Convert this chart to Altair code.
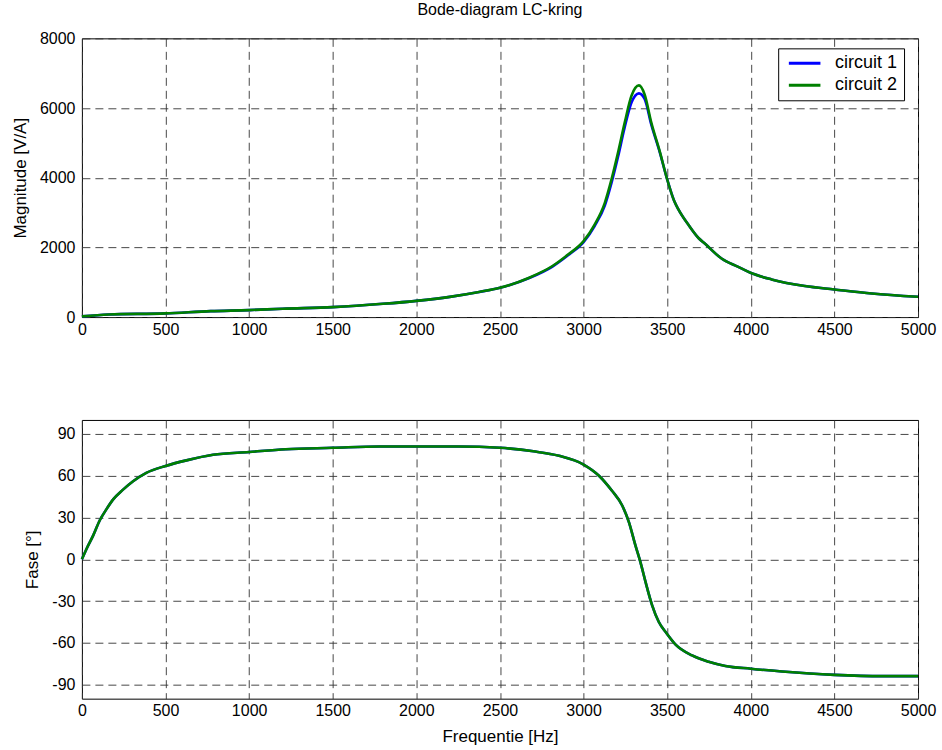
import altair as alt
import pandas as pd

# ---- data ----
series = ["circuit 1", "circuit 2"]
series_colors = ["#0000ff", "#008000"]

freq_mag = [0, 160, 500, 770, 1000, 1200, 1500, 1800, 2000, 2200, 2375, 2500, 2675, 2814,
            2909, 3000, 3067, 3127, 3167, 3206, 3246, 3286, 3331, 3365, 3405, 3455, 3500,
            3542, 3567, 3631, 3687, 3725, 3825, 3925, 3998, 4124, 4323, 4500, 4724, 5000]
mag_c1 = [20, 75, 105, 170, 200, 240, 285, 380, 465, 580, 720, 840, 1120, 1450,
          1780, 2150, 2620, 3200, 3850, 4600, 5450, 6150, 6420, 6260, 5520, 4740, 3950,
          3330, 3090, 2620, 2270, 2110, 1680, 1440, 1270, 1080, 889, 793, 678, 583]
mag_c2 = [20, 75, 105, 170, 200, 240, 285, 380, 465, 580, 720, 840, 1130, 1465,
          1800, 2180, 2660, 3280, 3950, 4720, 5580, 6345, 6650, 6390, 5580, 4765, 3950,
          3330, 3090, 2620, 2270, 2110, 1680, 1440, 1270, 1080, 889, 793, 678, 583]

freq_phase = [0, 28, 67, 107, 147, 187, 246, 306, 385, 500, 625, 784, 1000, 1220, 1500,
              1778, 2000, 2250, 2500, 2700, 2853, 3000, 3092, 3171, 3231, 3271, 3310, 3340,
              3370, 3410, 3450, 3496, 3549, 3649, 3748, 3848, 4000, 4187, 4500, 4789, 5000]
phase_c1 = [0, 7.6, 17, 28, 36, 43, 50, 56, 62, 67, 71, 75, 77, 79, 80,
            81, 81, 81, 80, 77.5, 74.3, 68, 60, 49, 38.6, 26.7, 10, -2,
            -16, -33, -45, -53, -61, -69, -73.5, -76.5, -78.5, -80.5, -82.9, -83.8, -83.8]
phase_c2 = [0, 7.6, 17, 28, 36, 43, 50, 56, 62, 67, 71, 75, 77, 79, 80,
            81, 81, 81, 80, 77.5, 74.3, 68, 60, 49, 38.6, 26.7, 10, -2,
            -16, -33, -45, -53, -61, -69, -73.5, -76.5, -78.5, -80.5, -82.9, -83.8, -83.8]

x_ticks = [0, 500, 1000, 1500, 2000, 2500, 3000, 3500, 4000, 4500, 5000]
mag_ticks = [0, 2000, 4000, 6000, 8000]
phase_ticks = [-90, -60, -30, 0, 30, 60, 90]

mag_df = pd.concat([
    pd.DataFrame({"f": freq_mag, "v": mag_c1, "s": series[0]}),
    pd.DataFrame({"f": freq_mag, "v": mag_c2, "s": series[1]}),
])
phase_df = pd.concat([
    pd.DataFrame({"f": freq_phase, "v": phase_c1, "s": series[0]}),
    pd.DataFrame({"f": freq_phase, "v": phase_c2, "s": series[1]}),
])

FONT = "Liberation Sans"
color_scale = alt.Scale(domain=series, range=series_colors)


def x_enc(title):
    return alt.X("f:Q", scale=alt.Scale(domain=[0, 5000], nice=False, zero=False),
                 axis=alt.Axis(values=x_ticks, format="d", labelPadding=4,
                               labelFlush=False, title=title))


top = alt.Chart(mag_df, title=alt.TitleParams(
        "Bode-diagram LC-kring", fontSize=16, font=FONT, fontWeight="normal",
        anchor="middle", offset=12, color="black")).mark_line(
    strokeWidth=2.6, interpolate="monotone"
).encode(
    x=x_enc(None),
    y=alt.Y("v:Q", scale=alt.Scale(domain=[0, 8000], nice=False),
            axis=alt.Axis(values=mag_ticks, format="d", title="Magnitude [V/A]")),
    color=alt.Color("s:N", scale=color_scale, legend=alt.Legend(
        title=None, orient="none", legendX=697, legendY=10,
        strokeColor="black", fillColor="white", padding=6,
        symbolType="stroke", symbolSize=1000, symbolStrokeWidth=3, symbolOffset=3,
        labelFontSize=18, labelFont=FONT, labelColor="black", rowPadding=4,
        clipHeight=18, labelOffset=13, labelExpr="datum.label + '  '")),
).properties(width=837, height=279)

bottom = alt.Chart(phase_df).mark_line(strokeWidth=2.6, interpolate="monotone").encode(
    x=x_enc("Frequentie [Hz]"),
    y=alt.Y("v:Q", scale=alt.Scale(domain=[-100, 100], nice=False),
            axis=alt.Axis(values=phase_ticks, labelExpr="'' + datum.value",
                          title="Fase [°]")),
    color=alt.Color("s:N", scale=color_scale, legend=None),
).properties(width=837, height=279)

chart = alt.vconcat(top, bottom, spacing=81).properties(
    padding={"left": 10, "top": 1, "right": 5, "bottom": 5},
    background="white",
).configure_view(
    stroke="black", strokeWidth=1
).configure_axis(
    domain=False, ticks=False,
    grid=True, gridColor="#333333", gridDash=[8, 5], gridWidth=1, gridOpacity=0.9,
    labelFont=FONT, labelFontSize=16, labelColor="black",
    titleFont=FONT, titleFontSize=17, titleFontWeight="normal", titleColor="black",
    labelPadding=7, titlePadding=10,
)

chart.save("out.html", embed_options={"renderer": "svg", "actions": False})
